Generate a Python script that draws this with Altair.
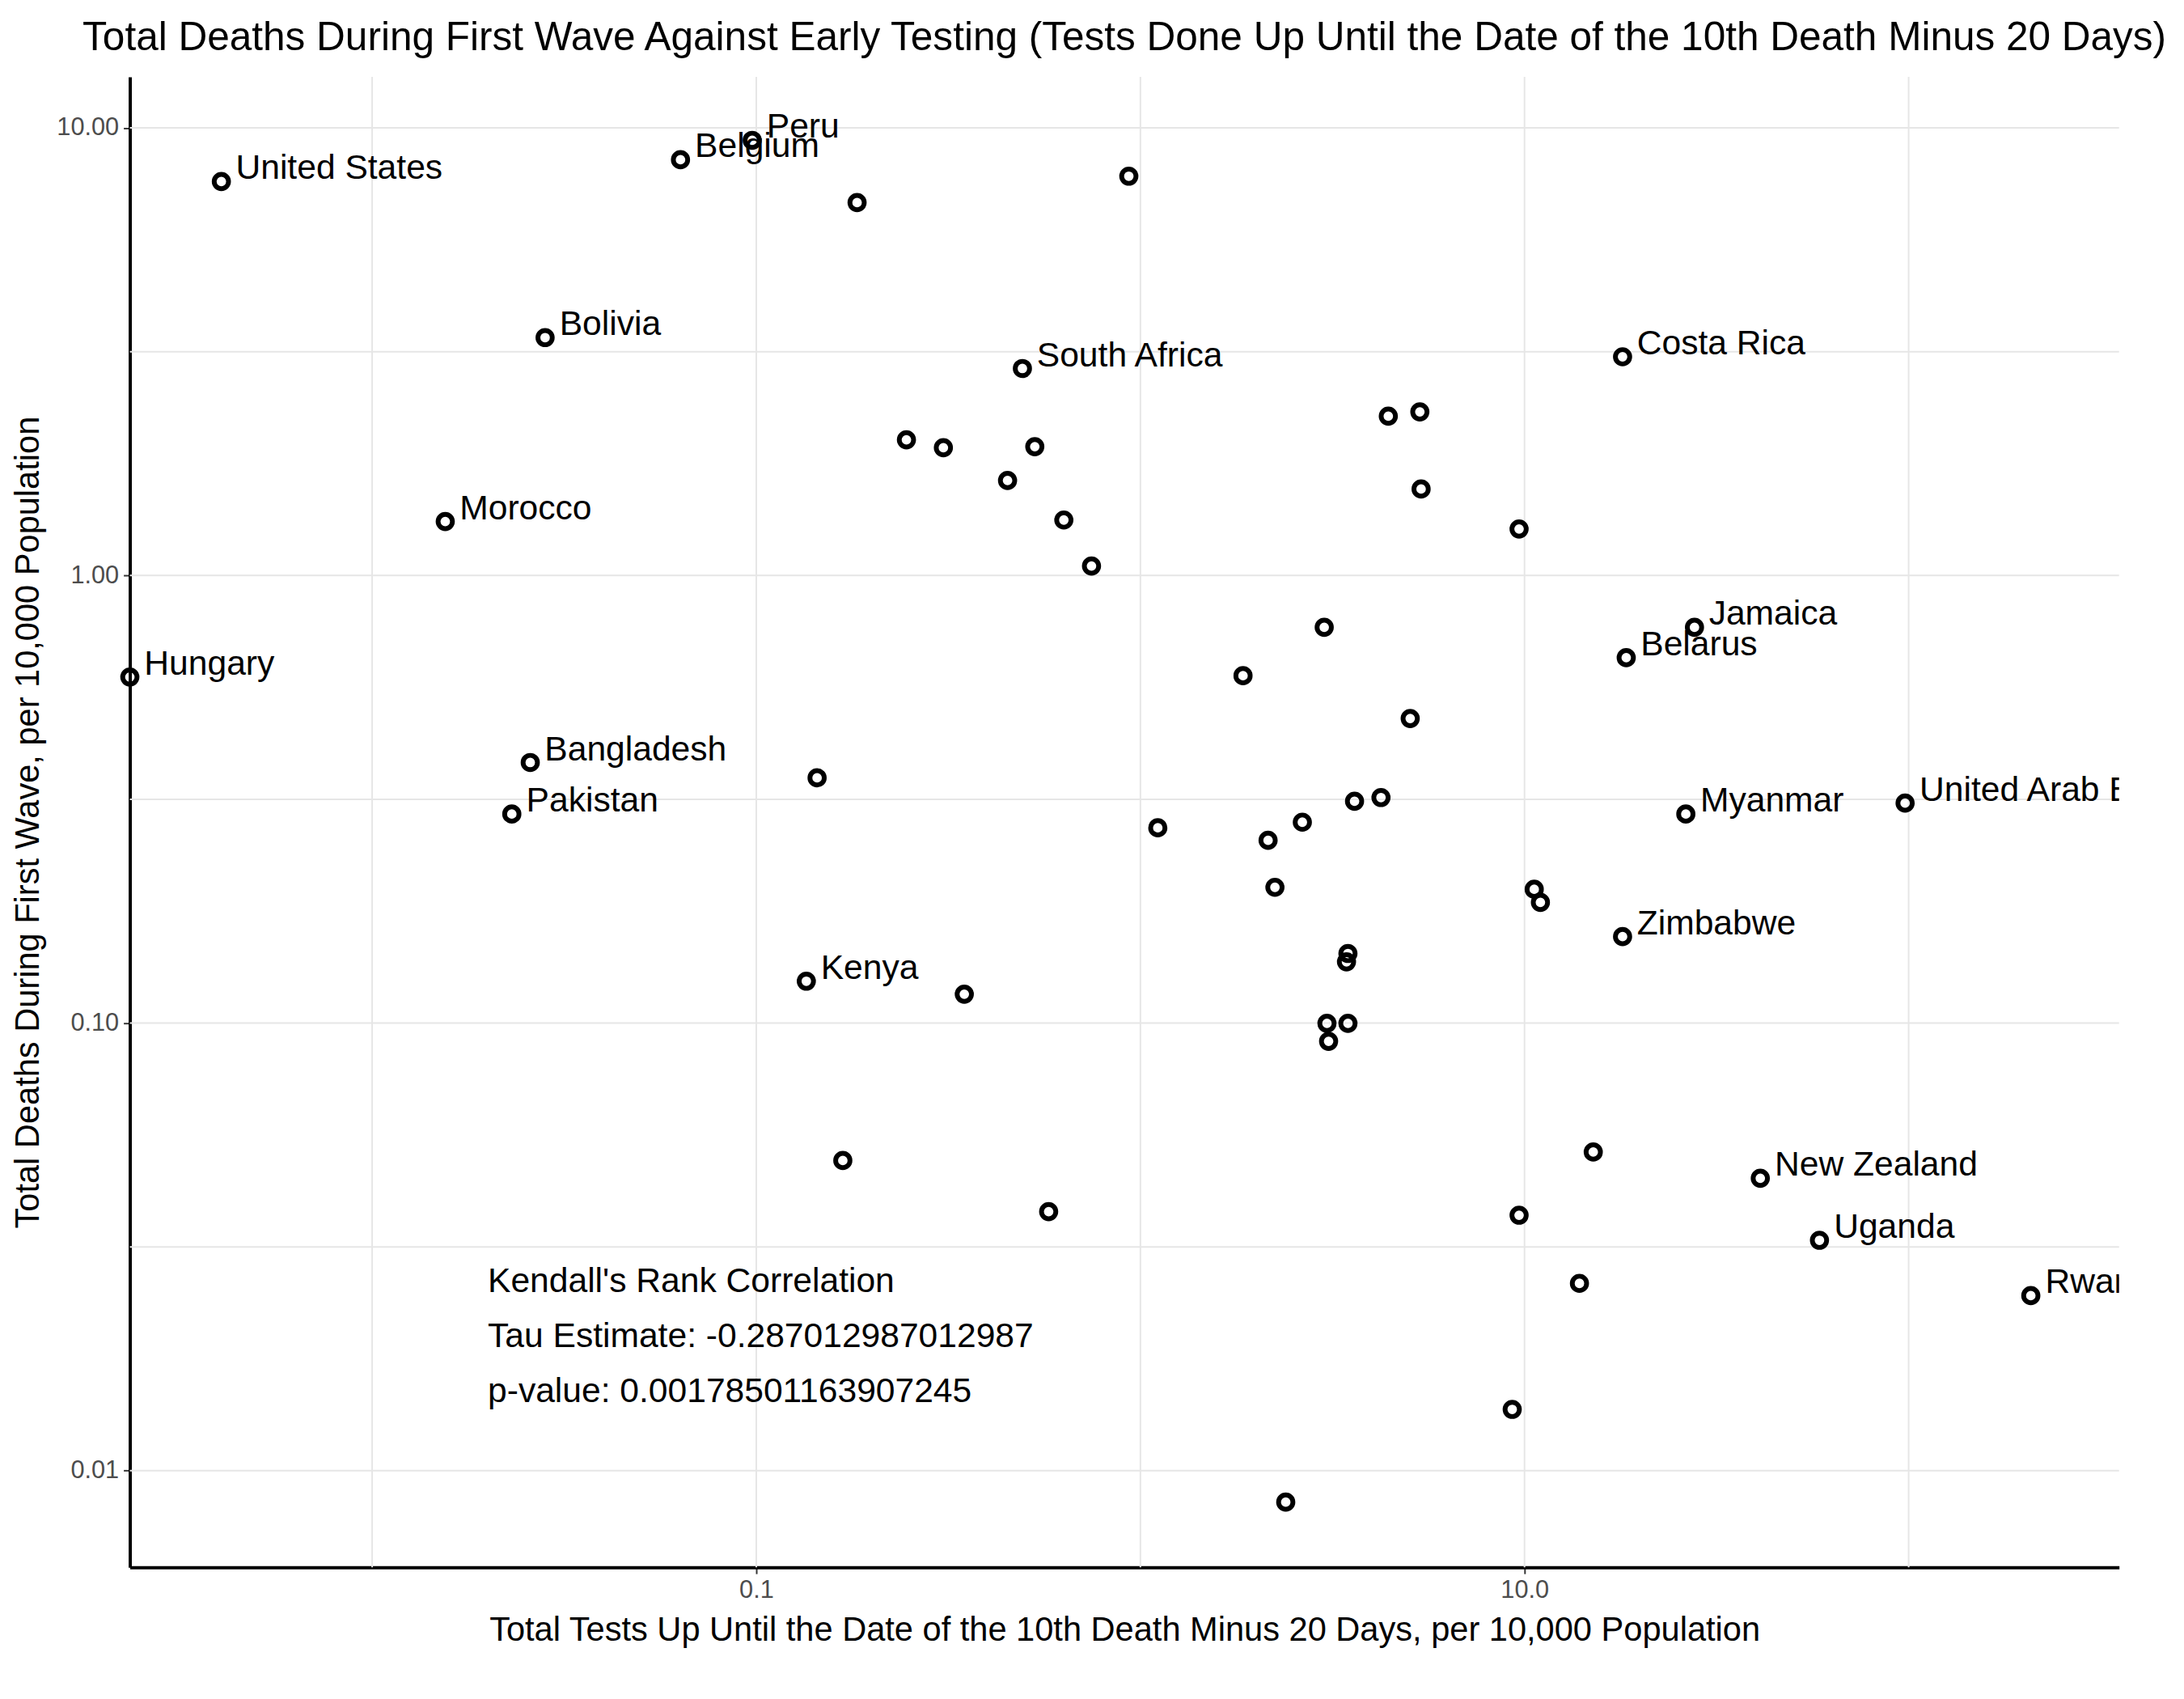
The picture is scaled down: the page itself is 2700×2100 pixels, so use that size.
import altair as alt
import pandas as pd

tests = [0.00234,0.00405,0.0635,0.0976,0.183,0.933,0.0282,0.493,18.0,0.246,0.307,0.531,0.451,0.632,0.746,
         4.42,5.34,5.38,9.68,0.0155,3.01,1.85,27.7,18.4,5.04,0.0258,0.0231,0.144,1.11,2.15,2.64,3.61,4.23,
         26.3,97.9,2.24,10.6,11.0,18.0,0.135,0.348,3.47,3.44,3.06,3.47,3.09,0.168,0.577,15.1,9.68,41.1,58.6,
         208,13.9,9.29,2.39]
deaths = [0.593,7.59,8.49,9.38,6.81,7.80,3.40,2.90,3.08,2.01,1.93,1.94,1.63,1.33,1.05,
          2.27,2.32,1.56,1.27,1.32,0.766,0.597,0.766,0.655,0.479,0.382,0.293,0.353,0.273,0.256,0.281,0.313,0.319,
          0.293,0.310,0.201,0.199,0.186,0.156,0.124,0.116,0.143,0.137,0.0998,0.0998,0.091,0.0493,0.0379,0.0515,0.0372,0.045,0.0327,
          0.0246,0.0262,0.0137,0.0085]
labels = ["Hungary","United States","Belgium","Peru","","","Bolivia","South Africa","Costa Rica","","","","","","",
          "","","","","Morocco","","","Jamaica","Belarus","","Bangladesh","Pakistan","","","","","","",
          "Myanmar","United Arab Emirates","","","","Zimbabwe","Kenya","","","","","","","","","","","New Zealand","Uganda",
          "Rwanda","","",""]

x_grid = [0.01, 0.1, 1, 10, 100]
y_grid = [0.01, 0.0316, 0.1, 0.316, 1, 3.16, 10]
ann_text = ["Kendall's Rank Correlation", "Tau Estimate: -0.287012987012987", "p-value: 0.00178501163907245"]
ann_y = [0.0264, 0.0199, 0.0150]

df = pd.DataFrame({"tests": tests, "deaths": deaths, "label": labels})
FONT = "Liberation Sans"
xs = alt.Scale(type="log", domain=[0.00234, 353], nice=False)
ys = alt.Scale(type="log", domain=[0.00608, 13.0], nice=False)

xgrid = alt.Chart(pd.DataFrame({"v": x_grid})).mark_rule(color="#e6e6e6", strokeWidth=2).encode(
    x=alt.X("v:Q", scale=xs))
ygrid = alt.Chart(pd.DataFrame({"v": y_grid})).mark_rule(color="#e6e6e6", strokeWidth=2).encode(
    y=alt.Y("v:Q", scale=ys))

pts = alt.Chart(df).mark_point(shape="circle", filled=False, color="black", strokeWidth=6, size=320, opacity=1).encode(
    x=alt.X("tests:Q", scale=xs,
            axis=alt.Axis(values=[0.1, 10], format=".1f", title="Total Tests Up Until the Date of the 10th Death Minus 20 Days, per 10,000 Population")),
    y=alt.Y("deaths:Q", scale=ys,
            axis=alt.Axis(values=[0.01, 0.1, 1, 10], format=".2f", title="Total Deaths During First Wave, per 10,000 Population")),
)
txt = alt.Chart(df[df.label != ""]).mark_text(align="left", dx=18, dy=-16, fontSize=43, font=FONT, clip=True, color="black").encode(
    x=alt.X("tests:Q", scale=xs), y=alt.Y("deaths:Q", scale=ys), text="label:N")
ann = alt.Chart(pd.DataFrame({"t": ann_text, "y": ann_y, "x": [0.02] * 3})).mark_text(
    align="left", baseline="middle", fontSize=43, font=FONT, color="black").encode(
    x=alt.X("x:Q", scale=xs), y=alt.Y("y:Q", scale=ys), text="t:N")

chart = alt.layer(xgrid, ygrid, pts, txt, ann).properties(
    width=2483, height=1860,
    title=alt.TitleParams("Total Deaths During First Wave Against  Early Testing (Tests Done Up Until the Date of the 10th Death Minus 20 Days)",
                          fontSize=50, font=FONT, fontWeight="normal", anchor="middle", color="black", offset=22),
).configure_view(stroke=None).configure_axis(
    grid=False, domainColor="black", domainWidth=4, tickColor="#333333", tickWidth=2, tickSize=8,
    labelFont=FONT, labelFontSize=31, labelColor="#4d4d4d", titleFont=FONT, titleFontSize=42,
    titleFontWeight="normal", titleColor="black", labelPadding=6, titlePadding=14)

chart.save("out.html", embed_options={"renderer": "svg", "actions": False})
